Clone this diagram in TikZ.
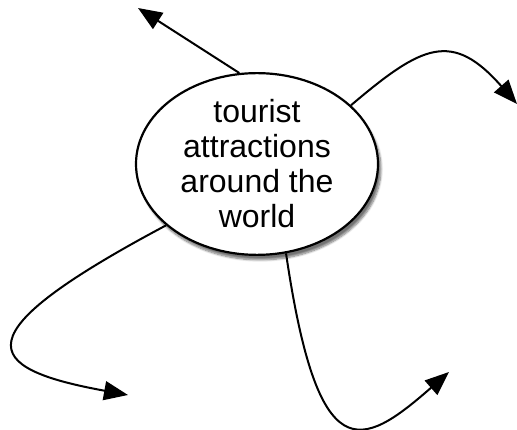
\documentclass[tikz,border=0pt]{standalone}
\usepackage{fontspec}
\setmainfont{Liberation Sans}
\usetikzlibrary{arrows.meta,shapes.geometric,shadows.blur}
\begin{document}
\begin{tikzpicture}[x=1pt,y=-1pt,
  topic/.style={ellipse,draw=black,line width=2.2pt,fill=white,
    minimum width=242pt,minimum height=168pt,inner sep=0pt,align=center,
    font=\fontsize{32}{35}\selectfont,
    blur shadow={shadow xshift=3pt,shadow yshift=-5pt,shadow opacity=55,shadow blur steps=8}},
  link/.style={line width=2pt,-{Triangle[length=24pt,width=19pt]}}]
\useasboundingbox (0,0) rectangle (517,430);
\node[topic] (e) at (257,164) {tourist\\attractions\\around the\\world};
\coordinate (t1) at (138,8);
\coordinate (t2) at (517,104);
\coordinate (t3) at (128,395);
\coordinate (t4) at (449,372);
\draw[link] (e.101) -- (t1);
\draw[link] (e.32) .. controls (422,45) and (452,30) .. (t2);
\draw[link] (e.214.8) .. controls (-40,335) and (-20,368) .. (t3);
\draw[link] (e.-72) .. controls (318,470) and (360,450) .. (t4);
\end{tikzpicture}
\end{document}
